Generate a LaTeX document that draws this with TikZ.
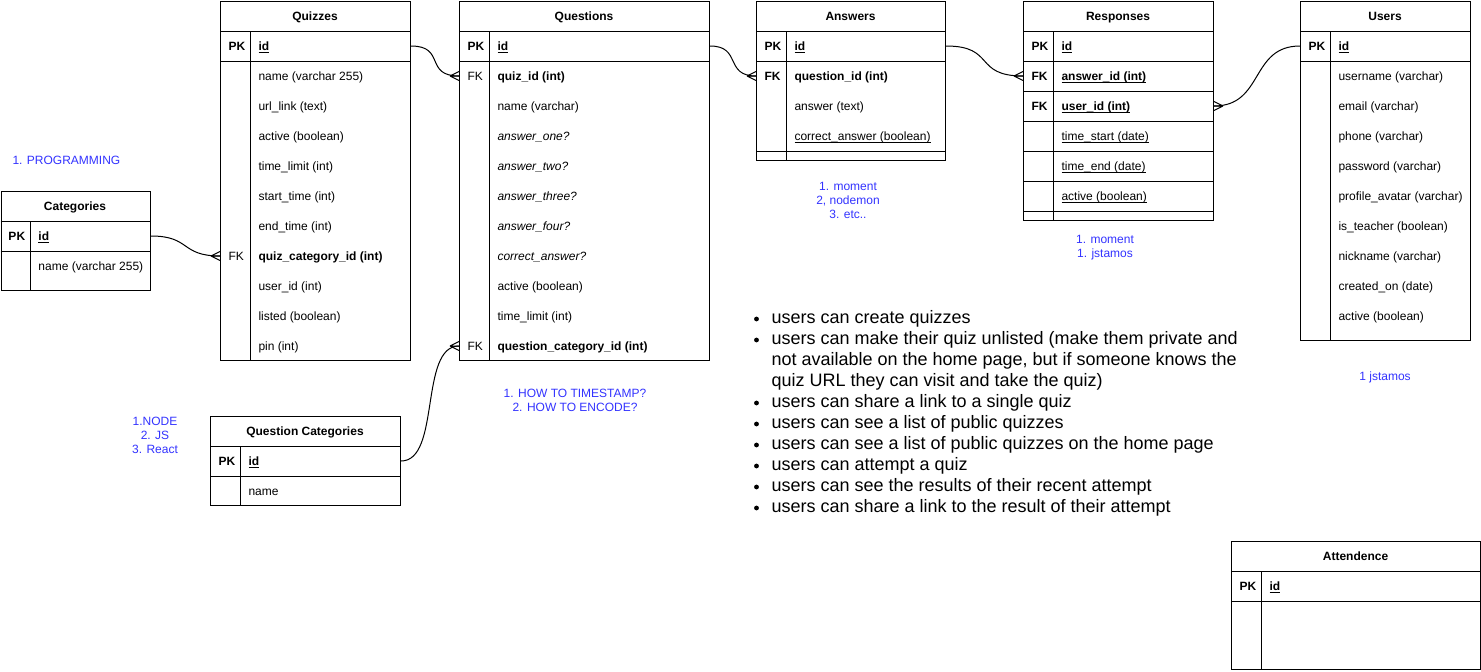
\documentclass[tikz,border=0pt]{standalone}
\usepackage{fontspec}
\setmainfont{Liberation Sans}
\definecolor{noteblue}{RGB}{51,51,255}
% font sizes: 12px table text, 12px notes, 18px requirement list
\newcommand\erfont{\fontsize{9}{10.8}\selectfont}
\newcommand\bluenotefont{\fontsize{9}{10.5}\selectfont}
\newcommand\reqfont{\fontsize{13.5}{15.75}\selectfont}
% underline drawn at a fixed depth below the baseline
\newcommand\uln[1]{\begingroup\setbox0\hbox{#1}\rlap{\vrule height -1.3pt depth 2.0pt width \wd0}\box0\endgroup}
\begin{document}
\begin{tikzpicture}[x=0.75pt,y=-0.75pt,line width=0.75pt,
  cell/.style={inner sep=0pt, text height=0.905em, text depth=0.212em, anchor=west, font=\erfont},
  key/.style={cell, font=\erfont\bfseries},
  ttl/.style={cell, anchor=center, font=\erfont\bfseries},
  frame/.style={draw, inner sep=0pt, anchor=north west},
  % multi-line nodes are placed by the centre of their last line
  note/.style={inner sep=0pt, text height=0.905em, text depth=0.212em, align=center, font=\bluenotefont, text=noteblue},
  item/.style={inner sep=0pt, text height=0.905em, text depth=0.212em, anchor=west, align=left, font=\reqfont},
  crow/.pic={\draw[line width=0.75pt] (-9,0) -- (0,-4.5) (-9,0) -- (0,0) (-9,0) -- (0,4.5);},
]
\fill[white] (0,0) rectangle (1481,671);
\useasboundingbox (0,0) rectangle (1481,671);

% ---------- Quizzes ----------
\node[frame, minimum width=190*0.75pt, minimum height=359*0.75pt] (quizzes) at (220,1) {};
\draw (220,31) -- (410,31) (220,61) -- (410,61) (250,31) -- (250,360);
\node[ttl] (qz-t) at (315,16) {Quizzes};
\node[key] (qz-pk) at (228,46) {PK};
\node[key] (qz-id) at (258,46) {\uln{id}};
\foreach \y/\t [count=\i] in {76/name (varchar 255), 106/url\_link (text), 136/active (boolean),
  166/time\_limit (int), 196/start\_time (int), 226/end\_time (int), 286/user\_id (int),
  316/listed (boolean), 346/pin (int)}
  \node[cell] (qz-f\i) at (258,\y) {\t};
\node[cell] (qz-fk) at (228,256) {FK};
\node[key] (qz-cat) at (258,256) {quiz\_category\_id (int)};

% ---------- Questions ----------
\node[frame, minimum width=250*0.75pt, minimum height=359*0.75pt] (questions) at (459,1) {};
\draw (459,31) -- (709,31) (459,61) -- (709,61) (489,31) -- (489,360);
\node[ttl] (qn-t) at (584,16) {Questions};
\node[key] (qn-pk) at (467,46) {PK};
\node[key] (qn-id) at (497,46) {\uln{id}};
\node[cell] (qn-fk1) at (467,76) {FK};
\node[key] (qn-quiz) at (497,76) {quiz\_id (int)};
\node[cell] (qn-name) at (497,106) {name (varchar)};
\foreach \y/\t [count=\i] in {136/answer\_one?, 166/answer\_two?, 196/answer\_three?,
  226/answer\_four?, 256/correct\_answer?}
  \node[cell, font=\erfont\itshape] (qn-a\i) at (497,\y) {\t};
\node[cell] (qn-active) at (497,286) {active (boolean)};
\node[cell] (qn-limit) at (497,316) {time\_limit (int)};
\node[cell] (qn-fk2) at (467,346) {FK};
\node[key] (qn-qcat) at (497,346) {question\_category\_id (int)};

% ---------- Answers ----------
\node[frame, minimum width=189*0.75pt, minimum height=159*0.75pt] (answers) at (756,1) {};
\draw (756,31) -- (945,31) (756,61) -- (945,61) (756,151) -- (945,151) (786,31) -- (786,160);
\node[ttl] (an-t) at (850.5,16) {Answers};
\node[key] (an-pk) at (764,46) {PK};
\node[key] (an-id) at (794,46) {\uln{id}};
\node[key] (an-fk) at (764,76) {FK};
\node[key] (an-q) at (794,76) {question\_id (int)};
\node[cell] (an-text) at (794,106) {answer (text)};
\node[cell] (an-ok) at (794,136) {\uln{correct\_answer (boolean)}};

% ---------- Responses ----------
\node[frame, minimum width=190*0.75pt, minimum height=219*0.75pt] (responses) at (1023,1) {};
\foreach \y in {31,61,91,121,151,181,211} \draw (1023,\y) -- (1213,\y);
\draw (1053,31) -- (1053,220);
\node[ttl] (rs-t) at (1118,16) {Responses};
\node[key] (rs-pk) at (1031,46) {PK};
\node[key] (rs-id) at (1061,46) {\uln{id}};
\node[key] (rs-fk1) at (1031,76) {FK};
\node[key] (rs-ans) at (1061,76) {\uln{answer\_id (int)}};
\node[key] (rs-fk2) at (1031,106) {FK};
\node[key] (rs-user) at (1061,106) {\uln{user\_id (int)}};
\node[cell] (rs-start) at (1061,136) {\uln{time\_start (date)}};
\node[cell] (rs-end) at (1061,166) {\uln{time\_end (date)}};
\node[cell] (rs-active) at (1061,196) {\uln{active (boolean)}};

% ---------- Users ----------
\node[frame, minimum width=170*0.75pt, minimum height=339*0.75pt] (users) at (1300,1) {};
\draw (1300,31) -- (1470,31) (1300,61) -- (1470,61) (1330,31) -- (1330,340);
\node[ttl] (us-t) at (1385,16) {Users};
\node[key] (us-pk) at (1308,46) {PK};
\node[key] (us-id) at (1338,46) {\uln{id}};
\foreach \y/\t [count=\i] in {76/username (varchar), 106/email (varchar), 136/phone (varchar),
  166/password (varchar), 196/profile\_avatar (varchar), 226/is\_teacher (boolean),
  256/nickname (varchar), 286/created\_on (date), 316/active (boolean)}
  \node[cell] (us-f\i) at (1338,\y) {\t};

% ---------- Categories ----------
\node[frame, minimum width=149.5*0.75pt, minimum height=99*0.75pt] (cats) at (0.5,191) {};
\draw (0.5,221) -- (150,221) (0.5,251) -- (150,251) (30,221) -- (30,290);
\node[ttl] (ct-t) at (75,206) {Categories};
\node[key] (ct-pk) at (8,236) {PK};
\node[key] (ct-id) at (38,236) {\uln{id}};
\node[cell] (ct-name) at (38,266) {name (varchar 255)};

% ---------- Question Categories ----------
\node[frame, minimum width=190*0.75pt, minimum height=89*0.75pt] (qcats) at (210,416) {};
\draw (210,446) -- (400,446) (210,476) -- (400,476) (240,446) -- (240,505);
\node[ttl] (qc-t) at (305,431) {Question Categories};
\node[key] (qc-pk) at (218,461) {PK};
\node[key] (qc-id) at (248,461) {\uln{id}};
\node[cell] (qc-name) at (248,491) {name};

% ---------- Attendence ----------
\node[frame, minimum width=249*0.75pt, minimum height=128*0.75pt] (attend) at (1231,541) {};
\draw (1231,571) -- (1480,571) (1231,601) -- (1480,601) (1261,571) -- (1261,669);
\node[ttl] (at-t) at (1355.5,556) {Attendence};
\node[key] (at-pk) at (1239,586) {PK};
\node[key] (at-id) at (1269,586) {\uln{id}};

% ---------- relationships (one to many) ----------
\draw (quizzes.east |- qz-id) .. controls +(35,0) and +(-35,0) .. (questions.west |- qn-quiz);
\pic at (questions.west |- qn-quiz) {crow};
\draw (questions.east |- qn-id) .. controls +(32,0) and +(-32,0) .. (answers.west |- an-q);
\pic at (answers.west |- an-q) {crow};
\draw (answers.east |- an-id) .. controls +(50,0) and +(-50,0) .. (responses.west |- rs-ans);
\pic at (responses.west |- rs-ans) {crow};
\draw (users.west |- us-id) .. controls +(-50,0) and +(50,0) .. (responses.east |- rs-user);
\pic[rotate=180] at (responses.east |- rs-user) {crow};
\draw (cats.east |- ct-id) .. controls +(40,0) and +(-40,0) .. (quizzes.west |- qz-cat);
\pic at (quizzes.west |- qz-cat) {crow};
\draw (qcats.east |- qc-id) .. controls +(40,0) and +(-40,0) .. (questions.west |- qn-qcat);
\pic at (questions.west |- qn-qcat) {crow};

% ---------- notes ----------
\node[note, anchor=west] (n-prog) at (12,160) {1. PROGRAMMING};
\node[note] (n-stack) at (155,449) {1.NODE\\2. JS\\3. React};
\node[note] (n-how) at (575,407) {1. HOW TO TIMESTAMP?\\2. HOW TO ENCODE?};
\node[note] (n-libs) at (848,214) {1. moment\\2, nodemon\\3. etc..};
\node[note] (n-resp) at (1105,253) {1. moment\\1. jstamos};
\node[note] (n-users) at (1385,376) {1 jstamos};

% ---------- requirement list ----------
\foreach \y/\t [count=\i] in {319/users can create quizzes,
  403/users can share a link to a single quiz,
  424/users can see a list of public quizzes,
  445/users can see a list of public quizzes on the home page,
  466/users can attempt a quiz,
  487/users can see the results of their recent attempt,
  508/users can share a link to the result of their attempt}
  \node[item] (req\i) at (771,\y) {\t};
\node[item] (req-unlisted) at (771,382) {users can make their quiz unlisted (make them private and\\not available on the home page, but if someone knows the\\quiz URL they can visit and take the quiz)};
\foreach \y in {319,340,403,424,445,466,487,508}
  \fill (756.5,\y) circle[radius=1.8pt];
\end{tikzpicture}
\end{document}
